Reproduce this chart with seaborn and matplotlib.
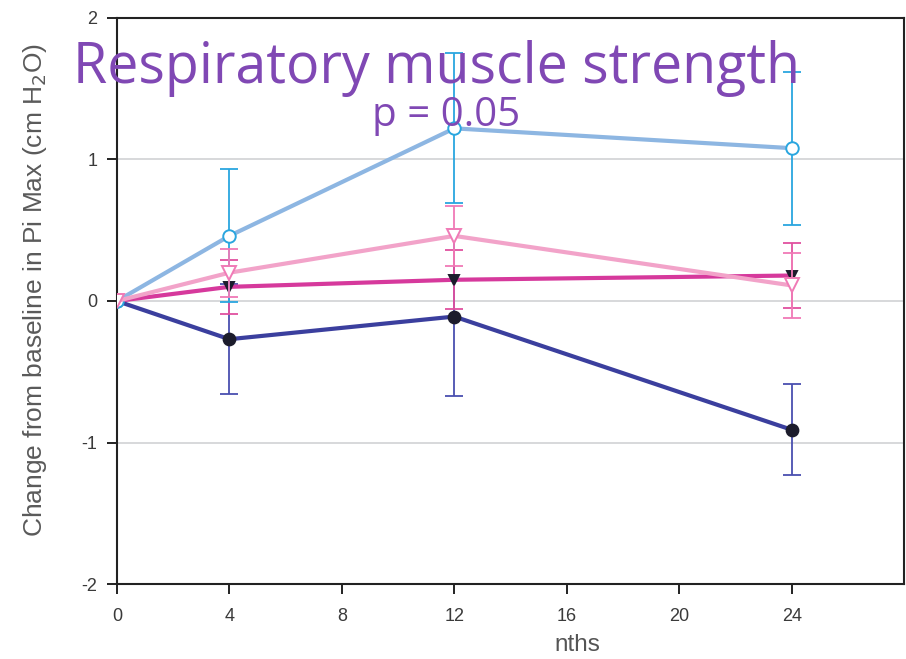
import matplotlib
matplotlib.use("Agg")
import matplotlib.pyplot as plt
import seaborn as sns
import pandas as pd

# Months after baseline at which Pi Max was measured
months = [0, 4, 12, 24]

# Mean change from baseline and its spread for each treatment arm
pale_blue_mean = [0.0, 0.46, 1.22, 1.08]
pale_blue_err = [0.0, 0.47, 0.53, 0.54]

pale_pink_mean = [0.0, 0.20, 0.46, 0.11]
pale_pink_err = [0.0, 0.17, 0.21, 0.23]

magenta_mean = [0.0, 0.10, 0.15, 0.18]
magenta_err = [0.0, 0.19, 0.21, 0.23]

navy_mean = [0.0, -0.27, -0.11, -0.91]
navy_err = [0.0, 0.39, 0.56, 0.32]

x_ticks = [0, 4, 8, 12, 16, 20, 24]
y_ticks = [-2, -1, 0, 1, 2]

sns.set_theme(style="white")
plt.rcParams["font.family"] = ["Liberation Sans", "DejaVu Sans"]

fig = plt.figure(figsize=(9.06, 6.59), dpi=100)
ax = fig.add_axes([0.129, 0.1138, 0.869, 0.8589])

series = [
    # (means, errors, line colour, error colour, marker, size, face, edge, z)
    (navy_mean, navy_err, "#3b3f9e", "#4a4fb0", "o", 8.5, "#1c1c2c", "#1c1c2c", 2),
    (magenta_mean, magenta_err, "#d6399c", "#e0509f", "v", 6.5, "#1c1c2c", "#1c1c2c", 3),
    (pale_blue_mean, pale_blue_err, "#8db6e2", "#2aa6df", "o", 9, "white", "#2aa6df", 4),
    (pale_pink_mean, pale_pink_err, "#f2a3c9", "#f07ab6", "v", 10, "white", "#f07ab6", 5),
]

for means, errs, lc, ec, mk, ms, mfc, mec, z in series:
    df = pd.DataFrame({"month": months, "change": means, "err": errs})
    # no spread at baseline, so bars start from the first follow-up visit
    follow = df[df["month"] > 0]
    ax.errorbar(follow["month"], follow["change"], yerr=follow["err"],
                fmt="none", ecolor=ec, elinewidth=1.3, capsize=6.5,
                capthick=1.3, zorder=z + 4)
    sns.lineplot(data=df, x="month", y="change", ax=ax, color=lc,
                 linewidth=3.0, marker=mk, markersize=ms,
                 markerfacecolor=mfc, markeredgecolor=mec,
                 markeredgewidth=1.4, zorder=z + 4)

ax.set_xlim(0, 28)
ax.set_ylim(-2, 2)
ax.set_xticks(x_ticks)
ax.set_yticks(y_ticks)
ax.set_xticklabels([str(t) for t in x_ticks])
ax.set_yticklabels([str(t) for t in y_ticks])

for y in [-1, 0, 1]:
    ax.axhline(y, color="#d4d6d8", linewidth=1.3, zorder=1)

for side in ["left", "right", "top", "bottom"]:
    ax.spines[side].set_visible(True)
    ax.spines[side].set_color("#222222")
    ax.spines[side].set_linewidth(1.5)

ax.tick_params(axis="both", which="major", direction="out", length=7,
               width=1.4, color="#222222", labelsize=13,
               labelcolor="#3a3a3a", bottom=True, left=True)
ax.tick_params(axis="x", pad=10)
ax.tick_params(axis="y", pad=7)

ax.set_xlabel("")
ax.set_ylabel("Change from baseline in Pi Max (cm H$_2$O)", fontsize=19,
              color="#5a5a5a")
ax.yaxis.set_label_coords(-0.086, 0.52)

fig.text(0.612, 0.004, "nths", fontsize=17.5, color="#555555",
         ha="left", va="bottom")

fig.text(0.482, 0.874, "Respiratory muscle strength", fontsize=40,
         color="#8048b4", ha="center", va="baseline",
         family=["Open Sans", "DejaVu Sans"])
fig.text(0.492, 0.809, "p = 0.05", fontsize=29, color="#8048b4",
         ha="center", va="baseline", family=["Open Sans", "DejaVu Sans"])

fig.savefig("out.png", dpi=100)
